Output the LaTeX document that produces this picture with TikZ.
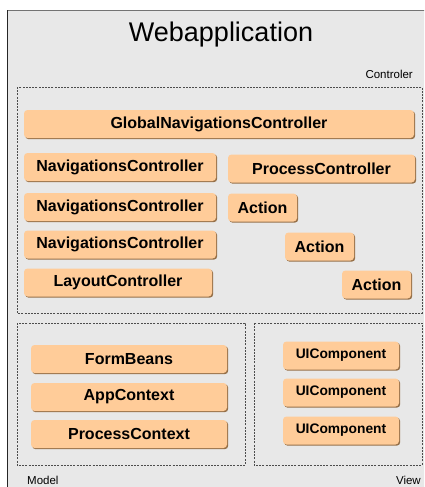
\documentclass[tikz,border=0pt]{standalone}
\usepackage{fontspec}
\setmainfont{Liberation Sans}
\usetikzlibrary{shadows}
\definecolor{peach}{RGB}{255,204,153}
\definecolor{peachshadow}{RGB}{150,112,72}
\definecolor{panel}{RGB}{232,232,232}
\tikzset{
  comp/.style={draw=none, fill=peach, rounded corners=3.5pt, inner sep=0pt,
    minimum height=28pt, font=\fontsize{16}{19}\selectfont\bfseries,
    drop shadow={shadow xshift=1.2pt, shadow yshift=-1.2pt, fill=peachshadow, opacity=1}},
  smallcomp/.style={comp, font=\fontsize{13.8}{16}\selectfont\bfseries},
  layer/.style={draw=black!70, line width=0.6pt, dash pattern=on 2pt off 1.2pt},
  lbl/.style={inner sep=0pt, font=\fontsize{11.5}{14}\selectfont}
}
\begin{document}
\begin{tikzpicture}[x=1pt, y=-1pt]
		\useasboundingbox (0,0) rectangle (424,487);
		\clip (0,0) rectangle (424,487);
		% outer frame
		\fill[panel] (7.5,10.5) rectangle (440,500);
		\draw[black!55, line width=1.5pt] (7.5,10.5) -- (440,10.5);
		\draw[black!85, line width=1.5pt] (7.5,10.5) -- (7.5,500);
		\node[lbl, anchor=base, font=\fontsize{27}{31}\selectfont] (title) at (221,42) {Webapplication};
		% layers
		\draw[layer] (17,87) rectangle (422,313);
		\draw[layer] (17,323) rectangle (245,465);
		\draw[layer] (254,323) rectangle (422,465);
		\node[lbl, anchor=base east] (controler) at (413,78) {Controler};
		\node[lbl, anchor=base west] (model) at (27,484) {Model};
		\node[lbl, anchor=base east] (view) at (421,484) {View};
		% controler
		\node[comp, minimum width=390pt] (global) at (219,124) {GlobalNavigationsController};
		\node[comp, minimum width=192pt] (nav1) at (120,167) {NavigationsController};
		\node[comp, minimum width=187pt] (process) at (321.5,168.5) {ProcessController};
		\node[comp, minimum width=192pt] (nav2) at (120,207) {NavigationsController};
		\node[comp, minimum width=69pt] (action1) at (262.5,207.5) {Action};
		\node[comp, minimum width=192pt] (nav3) at (120,244.5) {NavigationsController};
		\node[comp, minimum width=69pt] (action2) at (319.5,246.5) {Action};
		\node[comp, minimum width=188pt] (layout) at (118,282.5) {LayoutController};
		\node[comp, minimum width=69pt] (action3) at (376.5,284.5) {Action};
		% model
		\node[comp, minimum width=196pt] (formbeans) at (129,359) {FormBeans};
		\node[comp, minimum width=196pt] (appcontext) at (129,397) {AppContext};
		\node[comp, minimum width=196pt] (processcontext) at (129,434) {ProcessContext};
		% view
		\node[smallcomp, minimum width=116pt] (ui1) at (341,355.5) {UIComponent};
		\node[smallcomp, minimum width=116pt] (ui2) at (341,392.5) {UIComponent};
		\node[smallcomp, minimum width=116pt] (ui3) at (341,430.5) {UIComponent};
	\end{tikzpicture}
\end{document}
